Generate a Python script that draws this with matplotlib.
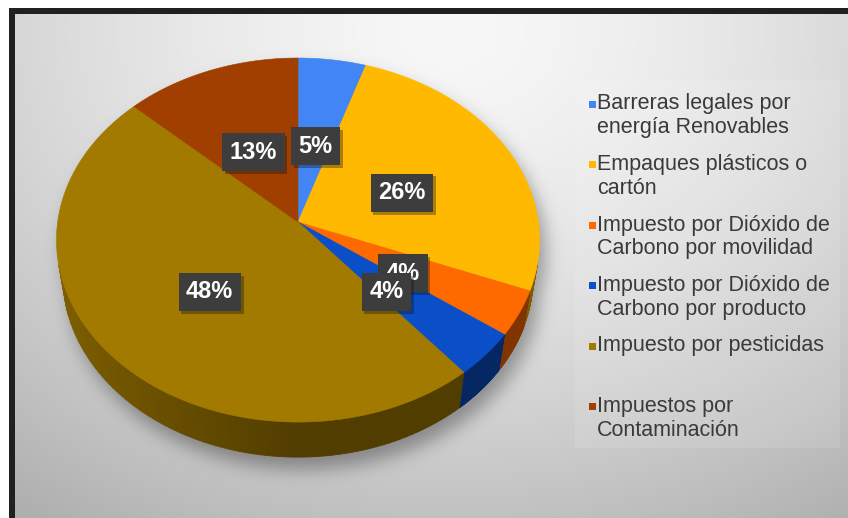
import numpy as np
import matplotlib
matplotlib.use('Agg')
import matplotlib.pyplot as plt
import matplotlib.patheffects as pe
from matplotlib.patches import Polygon, Rectangle
from matplotlib.path import Path

categories = [
    'Barreras legales por\nenergía Renovables',
    'Empaques plásticos o\ncartón',
    'Impuesto por Dióxido de\nCarbono por movilidad',
    'Impuesto por Dióxido de\nCarbono por producto',
    'Impuesto por pesticidas\n',
    'Impuestos por\nContaminación',
]
shares = [5, 26, 4, 4, 48, 13]
pct_labels = ['5%', '26%', '4%', '4%', '48%', '13%']
colors = ['#4285f4', '#ffb900', '#ff6a00', '#0a4fc8', '#a27a00', '#a03f00']

W, H = 848, 518
FONT = 'Liberation Sans'

# perspective view of a unit disc
ELEV = np.arcsin(0.75)
DIST = 6.67
FOCAL = 1603
THICK = 0.238
CX, CY = 298, 222


def project(theta, r=1.0, z=0.0):
    s, c = np.sin(ELEV), np.cos(ELEV)
    vx = r * np.sin(theta)
    vy = r * np.cos(theta) + DIST * c
    vz = z - DIST * s
    yc = vy * s + vz * c
    zc = vy * c - vz * s
    return CX + FOCAL * vx / zc, CY - FOCAL * yc / zc


def wall_visible(theta):
    return -1 - DIST * np.cos(ELEV) * np.cos(theta) > 0


def shade(color, k):
    rgb = np.array(matplotlib.colors.to_rgb(color))
    return tuple(np.clip(rgb * k, 0, 1))


fig = plt.figure(figsize=(W / 100, H / 100), dpi=100)
fig.patch.set_facecolor('white')
ax = fig.add_axes([0, 0, 1, 1])
ax.set_xlim(0, W)
ax.set_ylim(H, 0)
ax.axis('off')

# background gradient with the soft shadow of the pie
yy, xx = np.mgrid[0:H, 0:W] + 0.5
d = np.sqrt(((xx - 450) / 520) ** 2 + ((yy - 30) / 420) ** 2)
bg = 0.97 - 0.17 * np.clip(d, 0, 1.4) ** 1.5

full = np.linspace(0, 2 * np.pi, 361)
tx, ty = project(full)
bx, by = project(full, z=-THICK)
sdx, sdy = 6, 12
pts = np.column_stack([xx.ravel() - sdx, yy.ravel() - sdy])
mask = (Path(np.column_stack([tx, ty])).contains_points(pts)
        | Path(np.column_stack([bx, by])).contains_points(pts)).reshape(H, W).astype(float)
sigma = 9
k = np.exp(-0.5 * (np.arange(-3 * sigma, 3 * sigma + 1) / sigma) ** 2)
k /= k.sum()
mask = np.apply_along_axis(lambda m: np.convolve(m, k, mode='same'), 1, mask)
mask = np.apply_along_axis(lambda m: np.convolve(m, k, mode='same'), 0, mask)
bg = bg * (1 - 0.34 * mask)
img = np.dstack([bg, bg, bg])

ax.add_patch(Rectangle((9, 8), W, H, fc='#202020', ec='none', zorder=0))
ax.imshow(img[14:, 15:], extent=[15, W, H, 14], zorder=1, aspect='auto')

# slices
bounds = np.concatenate([[0], np.cumsum(shares)]) / sum(shares) * 2 * np.pi

for i, col in enumerate(colors):
    th = np.linspace(bounds[i], bounds[i + 1], 120)
    for a, b in zip(th[:-1], th[1:]):
        m = 0.5 * (a + b)
        if not wall_visible(m):
            continue
        x0, y0 = project(a)
        x1, y1 = project(b)
        x2, y2 = project(b, z=-THICK)
        x3, y3 = project(a, z=-THICK)
        f = 0.5 + 0.28 * max(0.0, -np.sin(m))
        wc = shade(col, f)
        ax.add_patch(Polygon([(x0, y0), (x1, y1), (x2, y2), (x3, y3)],
                             closed=True, fc=wc, ec=wc, lw=0.6, zorder=2))

for i, col in enumerate(colors):
    th = np.linspace(bounds[i], bounds[i + 1], 120)
    px, py = project(th)
    verts = [(CX, CY)] + list(zip(px, py))
    ax.add_patch(Polygon(verts, closed=True, fc=col, ec=col, lw=0.4, zorder=3))

for i, lab in enumerate(pct_labels):
    mid = 0.5 * (bounds[i] + bounds[i + 1])
    lx, ly = project(mid, r=0.49, z=-0.2 * THICK)
    t = ax.text(lx, ly, lab, ha='center', va='center', color='white',
                fontsize=17, fontweight='bold', family=FONT, zorder=5,
                bbox=dict(boxstyle='square,pad=0.32', fc='#3d3d3d', ec='none'))
    t.get_bbox_patch().set_path_effects(
        [pe.withSimplePatchShadow(offset=(2, -2), alpha=0.35)])

# legend
ax.add_patch(Rectangle((575, 80), 265, 368, fc='white', alpha=0.1,
                       ec='none', zorder=2))
y0, step, line_h = 104, 60.5, 23.5
for i, (lab, col) in enumerate(zip(categories, colors)):
    ey = y0 + i * step
    ax.add_patch(Rectangle((589, ey - 3.5), 7, 7, fc=col, ec='none', zorder=4))
    for j, line in enumerate(lab.split('\n')):
        ax.text(597, ey + j * line_h, line, ha='left', va='center',
                fontsize=15.5, color='#3a3a3a', family=FONT, zorder=4)

fig.savefig('out.png', dpi=100)
plt.close(fig)
